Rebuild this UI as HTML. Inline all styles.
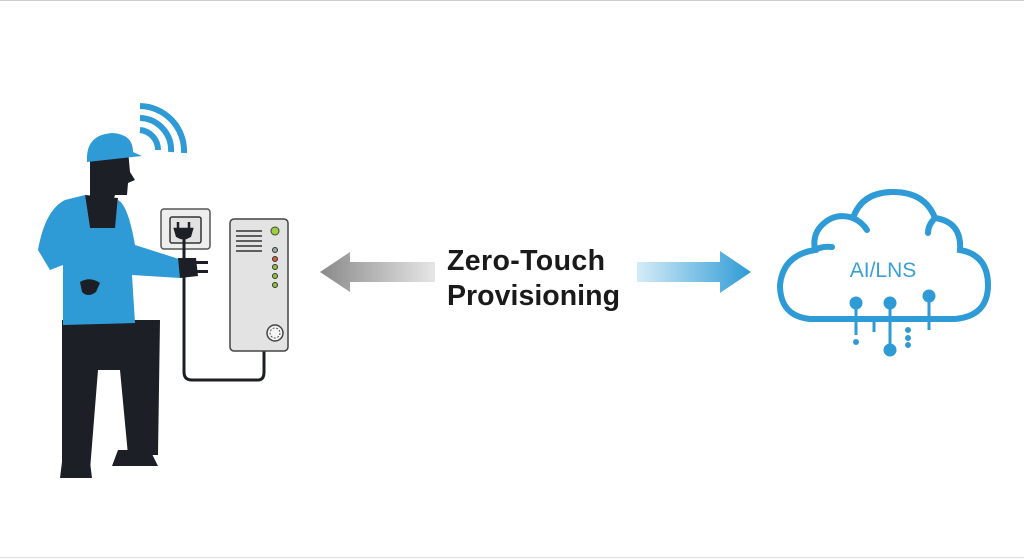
<!DOCTYPE html>
<html><head><style>
html,body{margin:0;padding:0;background:#fff;}
svg{display:block;}
</style></head><body>
<svg width="1024" height="559" viewBox="0 0 1024 559" xmlns="http://www.w3.org/2000/svg">
<defs>
<linearGradient id="gl" x1="0" x2="1"><stop offset="0" stop-color="#8a8a8a"/><stop offset="1" stop-color="#e6e6e6"/></linearGradient>
<linearGradient id="gr" x1="0" x2="1"><stop offset="0" stop-color="#d5ecf8"/><stop offset="1" stop-color="#2f9bd6"/></linearGradient>
</defs>
<rect x="0" y="0" width="1024" height="559" fill="#fff"/>
<line x1="0" y1="0.5" x2="1024" y2="0.5" stroke="#ccc"/>
<line x1="0" y1="557.5" x2="1024" y2="557.5" stroke="#ddd"/>
<!-- wifi -->
<g fill="none" stroke="#2f9bd6" stroke-width="6">
<path d="M140 130 A20 20 0 0 1 158 150"/>
<path d="M140 118 A32 32 0 0 1 171 152"/>
<path d="M140 106 A45 45 0 0 1 184 153"/>
</g>
<!-- legs -->
<path d="M62 320 L160 320 L158 455 L128 455 L120 370 L98 370 L90 470 L62 470 Z" fill="#1c2026"/>
<path d="M62 462 L90 462 L92 478 L60 478 Z" fill="#1c2026"/>
<path d="M118 450 L150 450 L158 466 L112 466 Z" fill="#1c2026"/>
<!-- head -->
<path d="M90 150 L128 150 L130 172 L135 180 L128 183 L127 195 L115 195 L112 205 L90 200 Z" fill="#1c2026"/>
<!-- hat -->
<path d="M87 160 Q86 135 112 133 Q133 134 133 152 L142 156 L87 162 Z" fill="#2f9bd6"/>
<!-- shirt -->
<path d="M85 195 L65 200 Q45 210 38 250 L50 270 L63 265 L63 325 L135 323 L132 275 L180 278 L182 260 L135 245 Q128 205 118 200 L115 226 L90 228 Z" fill="#2f9bd6"/>
<path d="M85 195 L118 198 L115 228 L90 228 Z" fill="#1c2026"/>
<path d="M80 282 Q90 276 100 283 L96 292 Q88 298 82 292 Z" fill="#1c2026"/>
<!-- hand + plug -->
<path d="M178 258 L196 258 L198 276 L180 278 Z" fill="#1c2026"/>
<rect x="196" y="261" width="12" height="3" fill="#1c2026"/>
<rect x="196" y="270" width="12" height="3" fill="#1c2026"/>
<!-- outlet -->
<rect x="161" y="209" width="49" height="40" rx="3" fill="#eeeeee" stroke="#555" stroke-width="1.5"/>
<rect x="170" y="217" width="31" height="26" rx="2" fill="#e2e2e2" stroke="#333" stroke-width="1.5"/>
<path d="M178 222 L178 229 M189 222 L189 229 M175 229 L192 229 L190 236 L186 238 L181 238 L177 236 Z" stroke="#1c2026" stroke-width="2.5" fill="#1c2026"/>
<!-- cable -->
<path d="M184 238 L184 372 Q184 380 192 380 L258 380 Q264 380 264 372 L264 350" fill="none" stroke="#1c2026" stroke-width="3"/>
<!-- device -->
<rect x="230" y="219" width="58" height="132" rx="4" fill="#e3e3e3" stroke="#444" stroke-width="1.5"/>
<g stroke="#333" stroke-width="1.5"><line x1="236" y1="231" x2="262" y2="231"/><line x1="236" y1="236" x2="262" y2="236"/><line x1="236" y1="241" x2="262" y2="241"/><line x1="236" y1="246" x2="262" y2="246"/><line x1="236" y1="251" x2="262" y2="251"/></g>
<circle cx="275" cy="231" r="4" fill="#9cd13a" stroke="#444" stroke-width="1"/>
<circle cx="275" cy="250" r="2.5" fill="#9aa" stroke="#333"/>
<circle cx="275" cy="259" r="2.5" fill="#e05a3a" stroke="#333"/>
<circle cx="275" cy="267" r="2.5" fill="#8cc43a" stroke="#333"/>
<circle cx="275" cy="276" r="2.5" fill="#8cc43a" stroke="#333"/>
<circle cx="275" cy="285" r="2.5" fill="#8cc43a" stroke="#333"/>
<circle cx="275" cy="333" r="8" fill="#f5f5f5" stroke="#444" stroke-width="1.5"/>
<circle cx="275" cy="333" r="5" fill="none" stroke="#555" stroke-dasharray="2 1.5"/>
<!-- arrows -->
<path d="M435 262 L350 262 L350 252 L320 272 L350 292 L350 282 L435 282 Z" fill="url(#gl)"/>
<path d="M637 262 L720 262 L720 251 L751 272 L720 293 L720 282 L637 282 Z" fill="url(#gr)"/>
<text x="447" y="270" font-family="Liberation Sans, sans-serif" font-weight="bold" font-size="28.5" fill="#1a1a1a" textLength="158">Zero-Touch</text>
<text x="447" y="305" font-family="Liberation Sans, sans-serif" font-weight="bold" font-size="28.5" fill="#1a1a1a" textLength="173">Provisioning</text>
<!-- cloud -->
<g fill="none" stroke="#2f9bd6" stroke-width="6" stroke-linecap="round">
<path d="M810 319 L955 319 Q988 316 988 285 Q988 255 960 250 Q962 222 935 218 Q925 192 893 192 Q862 192 853 218 Q835 212 822 225 Q812 235 815 250 Q783 255 780 285 Q780 316 810 319"/>
<path d="M815 250 Q822 246 832 247"/>
<path d="M853 218 Q862 222 867 230"/>
<path d="M935 218 Q928 225 928 233"/>
</g>
<g stroke="#2f9bd6" stroke-width="3" fill="#2f9bd6">
<line x1="856" y1="305" x2="856" y2="335"/><circle cx="856" cy="303" r="5"/>
<line x1="890" y1="305" x2="890" y2="350"/><circle cx="890" cy="303" r="5"/><circle cx="890" cy="350" r="5"/>
<line x1="929" y1="297" x2="929" y2="330"/><circle cx="929" cy="296" r="5"/>
<line x1="874" y1="320" x2="874" y2="332"/>
<circle cx="856" cy="342" r="1.5"/><circle cx="908" cy="330" r="1.5"/><circle cx="908" cy="338" r="1.5"/><circle cx="908" cy="345" r="1.5"/>
</g>
<text x="883" y="277" text-anchor="middle" font-family="Liberation Sans, sans-serif" font-size="21" fill="#3a9fd6">AI/LNS</text>
</svg>
</body></html>
